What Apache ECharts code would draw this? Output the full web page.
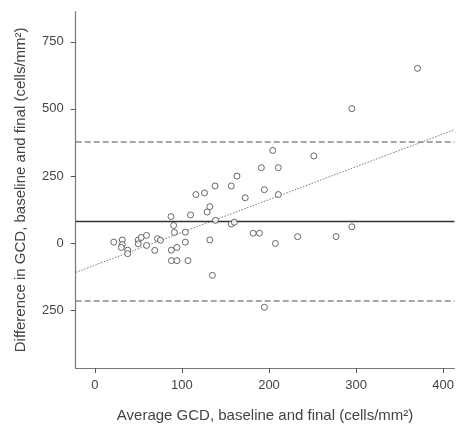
<!DOCTYPE html>
<html>
<head>
<meta charset="utf-8">
<script src="https://cdn.jsdelivr.net/npm/echarts@6/dist/echarts.min.js"></script>
<style>
html,body{margin:0;padding:0;background:#fff;}
#chart{width:457px;height:428px;}
</style>
</head>
<body>
<div id="chart"></div>
<script>
// Average GCD (x) and difference (y)
var avgGCD = [21.7,31.5,31.5,30.4,37.7,37.7,49.8,49.8,53.2,59.4,59.4,68.8,71.9,75.3,87.5,90.5,91.3,87.9,94.3,87.9,94.3,103.9,103.9,106.9,109.9,116,125.9,129,132,132,135,138.1,138.5,156.7,156.7,160.2,163.2,172.7,181.8,189,191.2,194.7,194.7,204.3,207.3,210.7,210.7,232.9,251.5,277,295.2,295.2,370.6];
var diffGCD = [3.7,12,-5,-16,-26,-39,12,-2.5,21,29,-8.5,-27,17,11,99,66,40,-26,-16,-65,-65,41,3.7,-65,105,181,187,116,136,12,-120,213,85,213,71,78,250,169,37,37,281,199,-239,345,-1,281,181,24.5,325,24.5,61,501,651];

var meanDiff = [83];
var limitsOfAgreement = [379, -213];
var regIntercept = -82;
var regSlope = 1.222;

var xTicks = [0,100,200,300,400];
var yTicks = [-250,0,250,500,750];
var yTickLabels = ['250','0','250','500','750'];

var xMin = -22, xMax = 413, yMin = -465, yMax = 862;

var points = avgGCD.map(function(x,i){return [x, diffGCD[i]];});
var regLine = [[xMin, regIntercept + regSlope*xMin],[xMax, regIntercept + regSlope*xMax]];

var markLines = [{yAxis: meanDiff[0], lineStyle:{type:'solid', color:'#333', width:1.3}}]
  .concat(limitsOfAgreement.map(function(v){return {yAxis:v, lineStyle:{type:[6,3], color:'#8a8a8a', width:1.5}};}));

var chart = echarts.init(document.getElementById('chart'), null, {renderer:'canvas'});
var font = 'Liberation Sans, Arial, Helvetica, sans-serif';
chart.setOption({
  animation:false,
  grid:{left:75.7, top:11.7, right:0, bottom:54, containLabel:false},
  xAxis:{
    type:'value', min:xMin, max:xMax,
    name:'Average GCD, baseline and final (cells/mm²)',
    nameLocation:'middle', nameGap:40,
    nameTextStyle:{fontFamily:font, fontSize:15, color:'#444'},
    axisLine:{onZero:false, lineStyle:{color:'#777', width:1.2}},
    axisTick:{show:true, length:5, lineStyle:{color:'#555'}, customValues:xTicks},
    axisLabel:{fontFamily:font, fontSize:13, color:'#444', margin:11, customValues:xTicks},
    splitLine:{show:false}
  },
  yAxis:{
    type:'value', min:yMin, max:yMax,
    name:'Difference in GCD, baseline and final (cells/mm²)',
    nameLocation:'middle', nameGap:47,
    nameTextStyle:{fontFamily:font, fontSize:15, color:'#444'},
    axisLine:{show:true, onZero:false, lineStyle:{color:'#777', width:1.2}},
    axisTick:{show:true, length:5, lineStyle:{color:'#555'}, customValues:yTicks},
    axisLabel:{fontFamily:font, fontSize:13, color:'#444', margin:12, customValues:yTicks,
      formatter:function(v){var i=yTicks.indexOf(v); return i>=0?yTickLabels[i]:'';}},
    splitLine:{show:false}
  },
  series:[
    {
      type:'line', data:regLine, symbol:'none', silent:true,
      lineStyle:{color:'#777', width:1, type:[1.5,1.5]}, z:1
    },
    {
      type:'scatter', data:points, symbol:'circle', symbolSize:6,
      itemStyle:{color:'#fff', borderColor:'#444', borderWidth:1},
      z:3,
      markLine:{silent:true, symbol:'none', label:{show:false}, data:markLines, z:2}
    }
  ]
});
</script>
</body>
</html>
